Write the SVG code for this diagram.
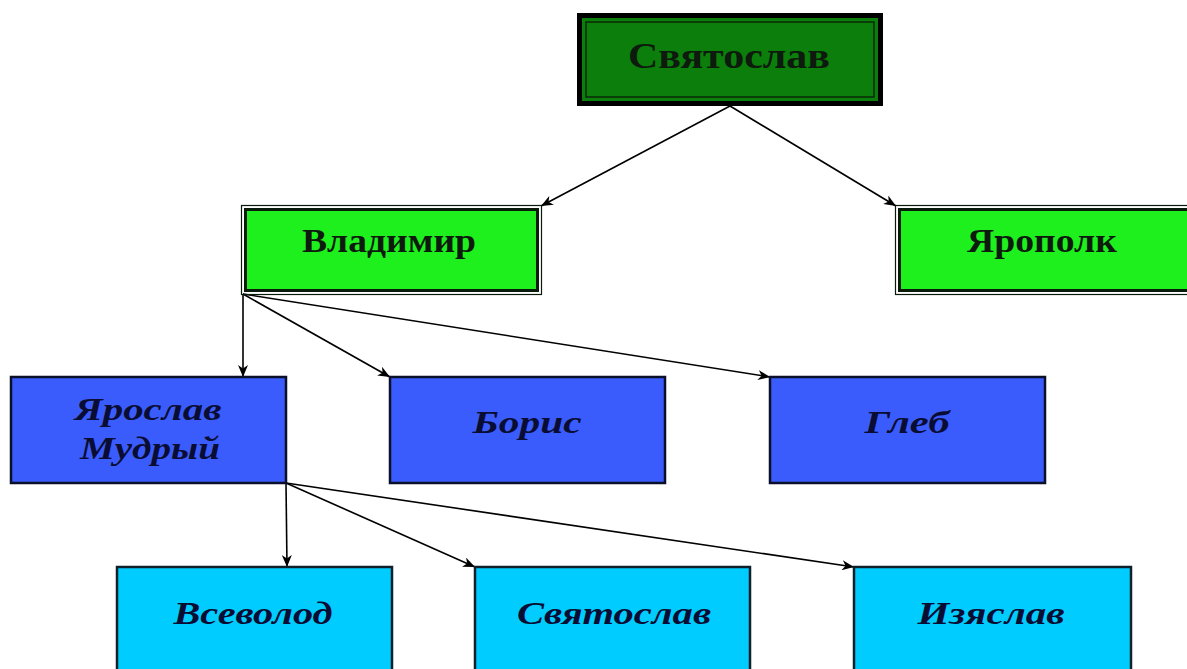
<svg xmlns="http://www.w3.org/2000/svg" width="1187" height="669" viewBox="0 0 1187 669">
  <defs>
    <marker id="arrow" viewBox="0 0 12 10" refX="12" refY="5" markerWidth="12" markerHeight="10" markerUnits="userSpaceOnUse" orient="auto">
      <path d="M0,0 L12,5 L0,10 L3.5,5 Z" fill="#000"/>
    </marker>
    <style>
      .lbl { font-family: "Liberation Serif", "DejaVu Serif", serif; font-weight: bold; fill: #0d1a0d; text-anchor: middle; }
      .it { font-style: italic; fill: #0a0d33; }
      .conn { stroke: #000; stroke-width: 1.6; fill: none; marker-end: url(#arrow); }
      .l2 { fill: #1df01d; stroke: #0a1a0a; stroke-width: 3; }
      .l2o { fill: none; stroke: #0a1a0a; stroke-width: 1.2; }
      .l3 { fill: #3b5cfd; stroke: #0a0f2a; stroke-width: 2.5; }
      .l4 { fill: #00ccff; stroke: #10202a; stroke-width: 2.5; }
    </style>
  </defs>

  <rect width="1187" height="669" fill="#ffffff"/>

  <!-- connectors -->
  <g id="connectors">
    <line class="conn" x1="730" y1="106" x2="541" y2="206"/>
    <line class="conn" x1="730" y1="106" x2="896" y2="206"/>
    <line class="conn" x1="243" y1="294" x2="243" y2="377"/>
    <line class="conn" x1="243" y1="294" x2="390" y2="377"/>
    <line class="conn" x1="243" y1="294" x2="770" y2="377"/>
    <line class="conn" x1="286" y1="483" x2="287" y2="567"/>
    <line class="conn" x1="286" y1="483" x2="475" y2="567"/>
    <line class="conn" x1="286" y1="483" x2="854" y2="567"/>
  </g>

  <!-- root -->
  <g id="node-svyatoslav-root">
    <rect x="579.5" y="15.5" width="301" height="88" fill="#0b7e0b" stroke="#000" stroke-width="5"/>
    <rect x="586" y="22" width="288" height="75" fill="none" stroke="#0a2a0a" stroke-width="1.5"/>
    <text class="lbl" x="729" y="68" font-size="35" textLength="202" lengthAdjust="spacingAndGlyphs">Святослав</text>
  </g>

  <!-- second generation -->
  <g id="node-vladimir">
    <rect class="l2o" x="241.5" y="205.5" width="300" height="89"/>
    <rect class="l2" x="245.5" y="209.5" width="292" height="81"/>
    <text class="lbl" x="389" y="252" font-size="34" textLength="174" lengthAdjust="spacingAndGlyphs">Владимир</text>
  </g>
  <g id="node-yaropolk">
    <rect class="l2o" x="895.5" y="205.5" width="300" height="89"/>
    <rect class="l2" x="899.5" y="209.5" width="292" height="81"/>
    <text class="lbl" x="1042" y="252" font-size="34" textLength="150" lengthAdjust="spacingAndGlyphs">Ярополк</text>
  </g>

  <!-- third generation -->
  <g id="node-yaroslav">
    <rect class="l3" x="11" y="377" width="275" height="106"/>
    <text class="lbl it" x="148" y="420" font-size="31" textLength="147" lengthAdjust="spacingAndGlyphs">Ярослав</text>
    <text class="lbl it" x="150" y="459" font-size="31" textLength="140" lengthAdjust="spacingAndGlyphs">Мудрый</text>
  </g>
  <g id="node-boris">
    <rect class="l3" x="390" y="377" width="275" height="106"/>
    <text class="lbl it" x="527" y="433" font-size="31" textLength="109" lengthAdjust="spacingAndGlyphs">Борис</text>
  </g>
  <g id="node-gleb">
    <rect class="l3" x="770" y="377" width="275" height="106"/>
    <text class="lbl it" x="907" y="433" font-size="31" textLength="85" lengthAdjust="spacingAndGlyphs">Глеб</text>
  </g>

  <!-- fourth generation -->
  <g id="node-vsevolod">
    <rect class="l4" x="117" y="567" width="275" height="115"/>
    <text class="lbl it" x="253" y="624" font-size="31" textLength="159" lengthAdjust="spacingAndGlyphs">Всеволод</text>
  </g>
  <g id="node-svyatoslav-jr">
    <rect class="l4" x="475" y="567" width="275" height="115"/>
    <text class="lbl it" x="614" y="624" font-size="31" textLength="194" lengthAdjust="spacingAndGlyphs">Святослав</text>
  </g>
  <g id="node-izyaslav">
    <rect class="l4" x="854" y="567" width="277" height="115"/>
    <text class="lbl it" x="991" y="624" font-size="31" textLength="147" lengthAdjust="spacingAndGlyphs">Изяслав</text>
  </g>
</svg>
